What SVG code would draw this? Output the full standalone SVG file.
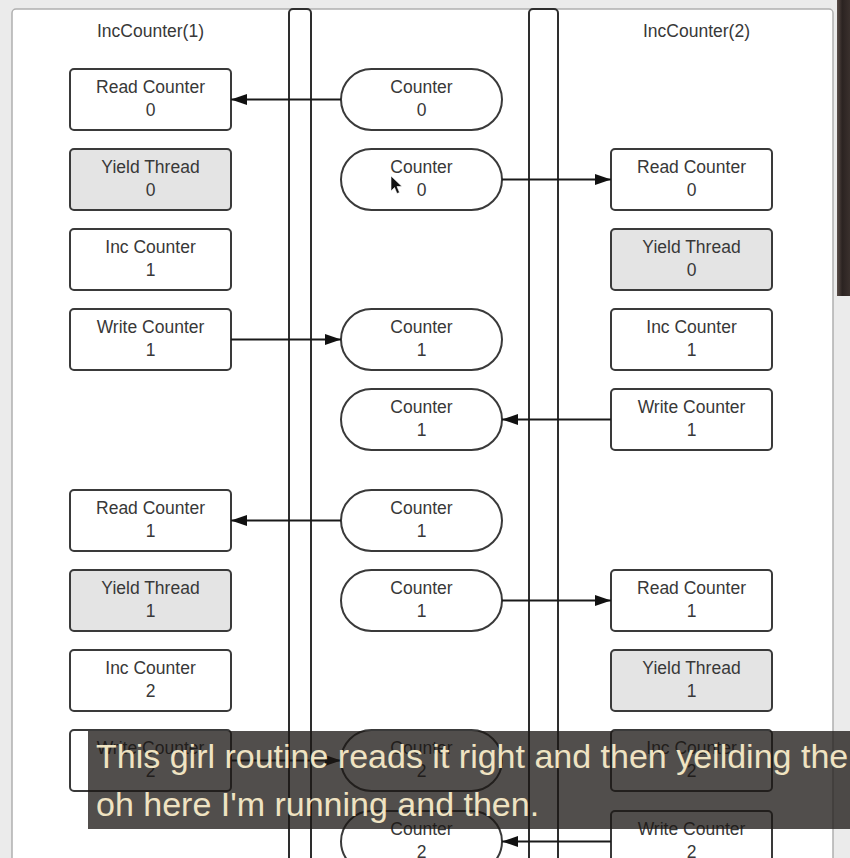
<svg xmlns="http://www.w3.org/2000/svg" width="850" height="858" viewBox="0 0 850 858">
<defs>
<linearGradient id="edge" x1="0" y1="0" x2="1" y2="0">
<stop offset="0" stop-color="#5a4d48"/>
<stop offset="0.4" stop-color="#2b2321"/>
<stop offset="1" stop-color="#3a302d"/>
</linearGradient>
<marker id="ah" markerUnits="userSpaceOnUse" markerWidth="16" markerHeight="11" refX="16" refY="5.5" orient="auto">
<path d="M0,0 L16,5.5 L0,11 z" fill="#111"/>
</marker>
<style>
.t{font-family:"Liberation Sans",Arial,sans-serif;font-size:17.5px;fill:#383838;text-anchor:middle}
.title{font-family:"Liberation Sans",Arial,sans-serif;font-size:17.5px;fill:#383838;text-anchor:middle}
.box{fill:#fff;stroke:#3a3a3a;stroke-width:2}
.gray{fill:#e4e4e4;stroke:#3a3a3a;stroke-width:2}
.pill{fill:#fff;stroke:#3a3a3a;stroke-width:2}
.lane{fill:#fff;stroke:#2e2e2e;stroke-width:2}
.conn{fill:none;stroke:#1a1a1a;stroke-width:2;marker-end:url(#ah)}
.cap{font-family:"Liberation Sans",Arial,sans-serif;font-size:34px;fill:#efe3c2}
</style>
</defs>
<rect x="0" y="0" width="850" height="858" fill="#ebebeb"/>
<rect x="12" y="9" width="821" height="900" rx="4" fill="#fff" stroke="#b0b0b0" stroke-width="1.5"/>
<rect x="837" y="0" width="13" height="296" fill="url(#edge)"/>
<text class="title" x="150.5" y="37">IncCounter(1)</text>
<text class="title" x="696.5" y="37">IncCounter(2)</text>
<g id="lanes">
<rect class="lane" x="289" y="9" width="22" height="900" rx="4"/>
<rect class="lane" x="529" y="9" width="29" height="900" rx="4"/>
</g>
<g id="left-col">
<g id="l-read0"><rect class="box" x="70" y="69" width="161" height="61" rx="4"/><text class="t" x="150.5" y="93">Read Counter</text><text class="t" x="150.5" y="115.5">0</text></g>
<g id="l-yield0"><rect class="gray" x="70" y="149" width="161" height="61" rx="4"/><text class="t" x="150.5" y="173">Yield Thread</text><text class="t" x="150.5" y="195.5">0</text></g>
<g id="l-inc1"><rect class="box" x="70" y="229" width="161" height="61" rx="4"/><text class="t" x="150.5" y="253">Inc Counter</text><text class="t" x="150.5" y="275.5">1</text></g>
<g id="l-write1"><rect class="box" x="70" y="309" width="161" height="61" rx="4"/><text class="t" x="150.5" y="333">Write Counter</text><text class="t" x="150.5" y="355.5">1</text></g>
<g id="l-read1"><rect class="box" x="70" y="490" width="161" height="61" rx="4"/><text class="t" x="150.5" y="514">Read Counter</text><text class="t" x="150.5" y="536.5">1</text></g>
<g id="l-yield1"><rect class="gray" x="70" y="570" width="161" height="61" rx="4"/><text class="t" x="150.5" y="594">Yield Thread</text><text class="t" x="150.5" y="616.5">1</text></g>
<g id="l-inc2"><rect class="box" x="70" y="650" width="161" height="61" rx="4"/><text class="t" x="150.5" y="674">Inc Counter</text><text class="t" x="150.5" y="696.5">2</text></g>
<g id="l-write2"><rect class="box" x="70" y="730" width="161" height="61" rx="4"/><text class="t" x="150.5" y="754">Write Counter</text><text class="t" x="150.5" y="776.5">2</text></g>
</g>
<g id="mid-col">
<g id="m0"><rect class="pill" x="341" y="69" width="161" height="61" rx="30.5"/><text class="t" x="421.5" y="93">Counter</text><text class="t" x="421.5" y="115.5">0</text></g>
<g id="m1"><rect class="pill" x="341" y="149" width="161" height="61" rx="30.5"/><text class="t" x="421.5" y="173">Counter</text><text class="t" x="421.5" y="195.5">0</text></g>
<g id="m2"><rect class="pill" x="341" y="309" width="161" height="61" rx="30.5"/><text class="t" x="421.5" y="333">Counter</text><text class="t" x="421.5" y="355.5">1</text></g>
<g id="m3"><rect class="pill" x="341" y="389" width="161" height="61" rx="30.5"/><text class="t" x="421.5" y="413">Counter</text><text class="t" x="421.5" y="435.5">1</text></g>
<g id="m4"><rect class="pill" x="341" y="490" width="161" height="61" rx="30.5"/><text class="t" x="421.5" y="514">Counter</text><text class="t" x="421.5" y="536.5">1</text></g>
<g id="m5"><rect class="pill" x="341" y="570" width="161" height="61" rx="30.5"/><text class="t" x="421.5" y="594">Counter</text><text class="t" x="421.5" y="616.5">1</text></g>
<g id="m6"><rect class="pill" x="341" y="730" width="161" height="61" rx="30.5"/><text class="t" x="421.5" y="754">Counter</text><text class="t" x="421.5" y="776.5">2</text></g>
<g id="m7"><rect class="pill" x="341" y="811" width="161" height="61" rx="30.5"/><text class="t" x="421.5" y="835">Counter</text><text class="t" x="421.5" y="857.5">2</text></g>
</g>
<g id="right-col">
<g id="r-read0"><rect class="box" x="611" y="149" width="161" height="61" rx="4"/><text class="t" x="691.5" y="173">Read Counter</text><text class="t" x="691.5" y="195.5">0</text></g>
<g id="r-yield0"><rect class="gray" x="611" y="229" width="161" height="61" rx="4"/><text class="t" x="691.5" y="253">Yield Thread</text><text class="t" x="691.5" y="275.5">0</text></g>
<g id="r-inc1"><rect class="box" x="611" y="309" width="161" height="61" rx="4"/><text class="t" x="691.5" y="333">Inc Counter</text><text class="t" x="691.5" y="355.5">1</text></g>
<g id="r-write1"><rect class="box" x="611" y="389" width="161" height="61" rx="4"/><text class="t" x="691.5" y="413">Write Counter</text><text class="t" x="691.5" y="435.5">1</text></g>
<g id="r-read1"><rect class="box" x="611" y="570" width="161" height="61" rx="4"/><text class="t" x="691.5" y="594">Read Counter</text><text class="t" x="691.5" y="616.5">1</text></g>
<g id="r-yield1"><rect class="gray" x="611" y="650" width="161" height="61" rx="4"/><text class="t" x="691.5" y="674">Yield Thread</text><text class="t" x="691.5" y="696.5">1</text></g>
<g id="r-inc2"><rect class="box" x="611" y="730" width="161" height="61" rx="4"/><text class="t" x="691.5" y="754">Inc Counter</text><text class="t" x="691.5" y="776.5">2</text></g>
<g id="r-write2"><rect class="box" x="611" y="811" width="161" height="61" rx="4"/><text class="t" x="691.5" y="835">Write Counter</text><text class="t" x="691.5" y="857.5">2</text></g>
</g>
<g id="connectors">
<path class="conn" d="M341,99.5 L231,99.5"/>
<path class="conn" d="M502,179.5 L611,179.5"/>
<path class="conn" d="M231,339.5 L341,339.5"/>
<path class="conn" d="M611,419.5 L502,419.5"/>
<path class="conn" d="M341,520.5 L231,520.5"/>
<path class="conn" d="M502,600.5 L611,600.5"/>
<path class="conn" d="M231,760.5 L341,760.5"/>
<path class="conn" d="M611,841.5 L502,841.5"/>
</g>
<path id="cursor" d="M391,176 L391,191 L394.5,187.5 L397,193.5 L399.5,192.5 L397,186.5 L402,186.5 Z" fill="#111" stroke="#fff" stroke-width="0.6"/>
<g id="caption">
<rect x="88" y="731" width="762" height="98" fill="#1a1714" opacity="0.76"/>
<text class="cap" x="96" y="768">This girl routine reads it right and then yeilding the</text>
<text class="cap" x="96" y="816">oh here I'm running and then.</text>
</g>
</svg>
